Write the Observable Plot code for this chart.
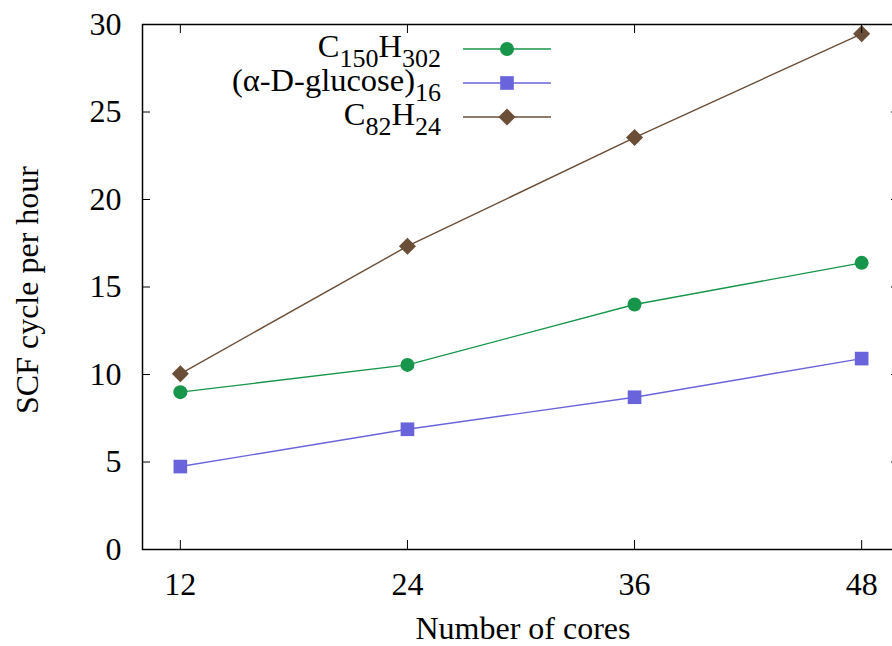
<!DOCTYPE html>
<html>
<head>
<meta charset="utf-8">
<script src="https://cdn.jsdelivr.net/npm/d3@7"></script>
<script src="https://cdn.jsdelivr.net/npm/@observablehq/plot@0.6"></script>
<style>
  html, body { margin: 0; padding: 0; background: white; overflow: hidden; }
  #chart svg { display: block; }
  #chart svg, #chart svg text, #chart svg tspan { font-family: 'Liberation Serif', 'Times New Roman', serif !important; }
</style>
</head>
<body>
<div id="chart"></div>
<script>
const cores = [12, 24, 36, 48];
const c150h302 = [8.99, 10.55, 14.0, 16.38];
const glucose16 = [4.74, 6.87, 8.70, 10.91];
const c82h24 = [10.04, 17.33, 23.54, 29.47];
const xTicks = [12, 24, 36, 48];
const yTicks = [0, 5, 10, 15, 20, 25, 30];
const seriesNames = ["C150H302", "(α-D-glucose)16", "C82H24"];
const seriesColors = ["#17954a", "#6a64dc", "#6b4e37"];
const seriesSymbols = ["circle", "square", "diamond2"];
const legendParts = [
  [["C", false], ["150", true], ["H", false], ["302", true]],
  [["(α-D-glucose)", false], ["16", true]],
  [["C", false], ["82", true], ["H", false], ["24", true]]
];

const seriesValues = [c150h302, glucose16, c82h24];
const rows = [];
seriesValues.forEach((vals, s) => {
  cores.forEach((c, i) => rows.push({series: seriesNames[s], cores: c, value: vals[i]}));
});

const W = 892, H = 646;
const mL = 142, mT = 24, mB = 97, mR = -7;
const plotW = W - mL - mR;
const plotH = H - mT - mB;
const font = "'Liberation Serif', 'Times New Roman', serif";
const FS = 32;

const marks = [];
seriesNames.forEach((name, s) => {
  const data = rows.filter(d => d.series === name);
  marks.push(Plot.line(data, {x: "cores", y: "value", stroke: seriesColors[s], strokeWidth: 1.4}));
  marks.push(Plot.dot(data, {x: "cores", y: "value", fill: seriesColors[s], stroke: "none",
    symbol: () => seriesSymbols[s], r: s === 0 ? 7 : 7.7}));
});
// inward ticks (gnuplot style, mirrored)
marks.push(Plot.ruleY(yTicks, {y: d => d, insetRight: plotW - 8, stroke: "black", strokeWidth: 1}));
marks.push(Plot.ruleY(yTicks, {y: d => d, insetLeft: plotW - 8, stroke: "black", strokeWidth: 1}));
marks.push(Plot.ruleX(xTicks, {x: d => d, insetTop: plotH - 9, stroke: "black", strokeWidth: 1}));
marks.push(Plot.ruleX(xTicks, {x: d => d, insetBottom: plotH - 9, stroke: "black", strokeWidth: 1}));
marks.push(Plot.frame({stroke: "black", strokeWidth: 1.5}));
marks.push(Plot.axisY(yTicks, {ticks: yTicks, tickSize: 0, tickPadding: 21, label: null, fontSize: FS, tickFormat: d => String(d)}));
marks.push(Plot.axisX(xTicks, {ticks: xTicks, tickSize: 0, tickPadding: 23, label: null, fontSize: FS, tickFormat: d => String(d)}));
marks.push(Plot.text(["Number of cores"], {frameAnchor: "bottom", textAnchor: "middle", lineAnchor: "middle", dx: 2, dy: 79, fontSize: FS, fill: "black"}));
marks.push(Plot.text(["SCF cycle per hour"], {frameAnchor: "left", textAnchor: "middle", lineAnchor: "middle", dx: -115, dy: 3, rotate: -90, fontSize: FS, fill: "black"}));

const svg = Plot.plot({
  width: W,
  height: H,
  marginLeft: mL,
  marginRight: mR,
  marginTop: mT,
  marginBottom: mB,
  style: {fontFamily: font, fontSize: FS + "px", color: "black", background: "white", overflow: "hidden"},
  x: {domain: [10, 50], axis: null},
  y: {domain: [0, 30], axis: null},
  marks
});

// legend (gnuplot-style, text right-aligned left of sample)
const g = d3.select(svg).append("g").attr("class", "legend");
const legendTextRight = 441, lineX1 = 463, lineX2 = 551, markerX = 507;
const rowY = [49, 83, 117];
seriesNames.forEach((name, s) => {
  const y = rowY[s];
  const t = g.append("text")
    .attr("x", legendTextRight).attr("y", y + 8)
    .attr("text-anchor", "end")
    .attr("font-family", font).attr("font-size", 32.5).attr("fill", "black");
  let sub = false;
  legendParts[s].forEach(([txt, isSub]) => {
    const ts = t.append("tspan").text(txt);
    if (isSub) {
      ts.attr("font-size", 26);
      if (!sub) { ts.attr("dy", 10); sub = true; }
    } else if (sub) { ts.attr("dy", -10); sub = false; }
  });
  g.append("line").attr("x1", lineX1).attr("x2", lineX2).attr("y1", y).attr("y2", y)
    .attr("stroke", seriesColors[s]).attr("stroke-width", 1.4);
  const r = s === 0 ? 7 : 7.7;
  const d3sym = [d3.symbolCircle, d3.symbolSquare, d3.symbolDiamond2][s];
  g.append("path").attr("d", d3.symbol(d3sym, r * r * Math.PI)())
    .attr("transform", `translate(${markerX},${y})`).attr("fill", seriesColors[s]);
});

document.getElementById("chart").appendChild(svg);
</script>
</body>
</html>
